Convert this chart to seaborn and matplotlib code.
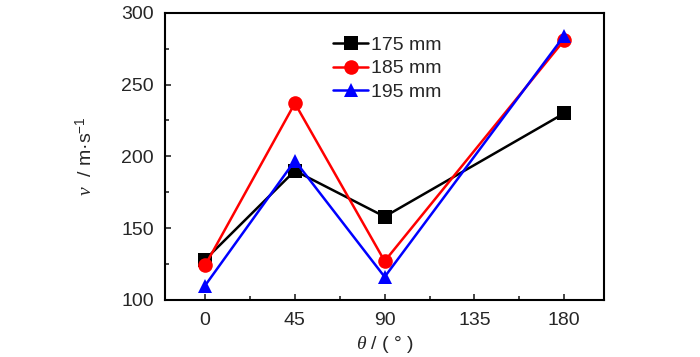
import pandas as pd
import matplotlib
matplotlib.use("Agg")
import matplotlib.pyplot as plt
import seaborn as sns
from matplotlib.ticker import MultipleLocator

# data
angles = [0, 45, 90, 180]
v_175 = [128, 190, 158, 230]
v_185 = [124, 237, 127, 281]
v_195 = [110, 197, 116, 284]
series_names = ["175 mm", "185 mm", "195 mm"]

df = pd.DataFrame({
    "theta": angles * 3,
    "v": v_175 + v_185 + v_195,
    "size": [n for n in series_names for _ in angles],
})

sns.set_style("ticks")
plt.rcParams["font.family"] = ["Liberation Sans", "DejaVu Sans"]
plt.rcParams["mathtext.fontset"] = "custom"
plt.rcParams["mathtext.rm"] = "Liberation Sans"
plt.rcParams["mathtext.it"] = "Liberation Serif:italic"

fig = plt.figure(figsize=(7, 3.57), dpi=100)
ax = fig.add_axes([0.236, 0.16, 0.627, 0.804])

sns.lineplot(
    data=df, x="theta", y="v", hue="size", style="size",
    palette=["#000000", "#ff0000", "#0000ff"],
    markers=["s", "o", "^"], dashes=False,
    markersize=10.5, linewidth=1.8, markeredgewidth=0,
    ax=ax,
)

ax.set_xlim(-20, 200)
ax.set_ylim(100, 300)
ax.set_xticks([0, 45, 90, 135, 180])
ax.xaxis.set_minor_locator(MultipleLocator(22.5))
ax.yaxis.set_major_locator(MultipleLocator(50))
ax.yaxis.set_minor_locator(MultipleLocator(25))
ax.tick_params(which="both", direction="in", top=False, right=False, labelsize=14)
ax.tick_params(axis="x", which="major", pad=9)
ax.tick_params(axis="y", which="major", pad=8)
ax.tick_params(which="major", length=4, width=1.2)
ax.tick_params(which="minor", length=3, width=1.2)
for s in ax.spines.values():
    s.set_visible(True)
    s.set_linewidth(1.5)
    s.set_color("black")

ax.set_xlabel(r"$\theta$ / ( ° )", fontsize=14, labelpad=3)
ax.set_ylabel(r"$v$  / m·s$^{-1}$", fontsize=14, labelpad=18)

ax.legend(title=None, loc="upper left", bbox_to_anchor=(0.365, 0.945),
          frameon=False, fontsize=14, handlelength=1.8, handletextpad=0.15,
          labelspacing=0.3, borderaxespad=0)

fig.savefig("out.png", dpi=100)
